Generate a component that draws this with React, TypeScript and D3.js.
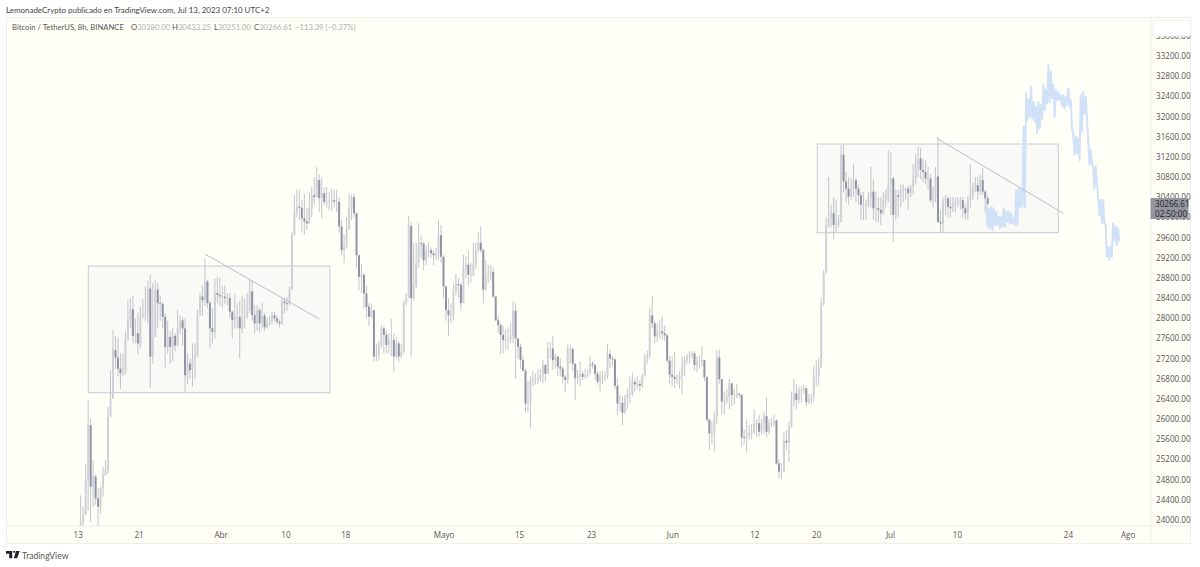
import React from "react";
import * as d3 from "d3";

const closes = [
23970,24100,24790,25880,24660,24860,24430,24260,24630,24890,
24990,26050,26410,27370,27220,27000,26910,26970,27570,27960,
28180,27650,27700,27500,28030,28100,28100,28590,27240,27630,
28570,28300,28280,28030,27430,27630,27430,27650,27460,27800,
27960,27800,26870,27100,26970,27200,27240,28060,28430,28360,
28730,28300,27800,27730,28500,28460,28430,28430,28400,28400,
28130,27960,28030,28030,27800,28000,28030,28160,28530,28060,
27900,28160,27900,28050,27820,27900,27930,28060,28000,27930,
27900,28330,28300,28280,28560,29650,30110,30210,30190,29980,
29920,29880,30180,30440,30400,30740,30380,30480,30310,30310,
30330,30340,30310,30310,29820,29350,29430,29780,30180,30400,
30080,29250,28820,28860,28490,28230,28030,28160,27240,27270,
27470,27800,27670,27470,27570,27570,27240,27500,27240,27340,
28300,28400,29830,28400,28660,29100,29490,29480,29150,29320,
29350,29290,29250,29260,29650,29220,28630,28160,28060,28060,
28550,28680,28660,28300,29020,29060,28860,28860,29060,29350,
29500,29350,28570,28860,28890,28920,28430,27960,27860,27670,
27570,27580,27600,27640,28150,27600,27430,27170,26960,26310,
26320,26780,26780,26790,26810,26870,27070,26900,27400,27400,
27170,27240,27040,27000,26840,26780,27390,27390,27100,26810,
26840,26900,26840,26870,26910,27100,27070,26900,26740,26840,
26850,26850,27290,27200,27180,26660,26310,26320,26130,26410,
26480,26500,26740,26690,26700,26660,26850,27220,27270,28060,
27900,27640,27740,27740,27700,27660,27160,26880,26840,26800,
26800,26870,27040,27170,27240,27270,27300,27070,27140,27170,
27170,26830,25990,25720,25720,26050,27220,26790,26350,26350,
26440,26710,26480,26480,26500,26480,25640,25620,25680,25730,
25730,25910,25920,25750,25920,26060,25750,25920,25920,25970,
25120,24960,24960,25570,25530,25850,26330,26510,26380,26580,
26580,26610,26340,26400,26440,26830,26840,27040,28300,28900,
29850,29980,30080,29850,29850,29915,31240,30710,30570,30410,
30540,30740,30570,30440,30250,30250,30250,30400,30510,30180,
30180,30150,30080,30340,30440,30640,30770,30050,30440,30410,
30540,30570,30570,30480,30610,30770,31070,31170,30940,30900,
30770,30770,30340,30380,30810,29910,29880,30310,30380,30210,
30180,30280,30310,30310,30340,30180,30080,30340,30410,30610,
30640,30510,30740,30510,30380,30266.61];

const highs = [
24490,24260,25120,26380,26010,25190,24900,24630,24660,25050,
25190,26240,26970,27770,27650,27620,27300,27300,27740,28360,
28400,28450,28000,28100,28220,28380,28640,28750,28860,28700,
28750,28700,28450,28330,28100,27950,27750,27800,27700,28170,
28050,28020,28000,27300,27200,27500,27500,28170,28500,28640,
29190,28760,28350,28200,28780,28820,28800,28650,28650,28500,
28500,28150,28470,28300,28350,28450,28400,28500,28760,28750,
28260,28250,28200,28300,28100,28000,28050,28130,28120,28050,
27980,28400,28400,28420,28620,29720,30440,30550,30550,30350,
30470,30200,30500,30600,30800,31000,30850,30800,30600,30600,
30500,30580,30550,30550,30400,29950,29650,30000,30470,30450,
30480,30100,29200,29080,28900,28650,28300,28290,28100,27500,
27550,27870,27850,27750,27700,27990,27700,27620,27550,27500,
28350,28500,30030,29900,29480,29500,29890,29650,29510,29450,
29500,29400,29350,29400,29950,29850,29250,28650,28400,28300,
28700,28880,28800,28700,29260,29230,29350,29100,29500,29500,
29700,29820,29380,29150,29060,29050,29000,28450,28050,27900,
27850,27780,27820,27900,28340,28300,27600,27500,27250,27000,
26750,26850,26950,26900,27000,27000,27180,27100,27530,27530,
27650,27300,27250,27200,27050,26880,27480,27480,27430,27100,
26980,27150,26950,27000,27000,27250,27150,27100,26950,26950,
26960,26950,27480,27380,27250,27220,26820,26480,26450,26480,
26600,26850,26920,26800,26850,26780,26900,27300,27360,28210,
28450,27950,27900,27980,28030,27850,27700,27250,27250,27340,
26900,26950,27250,27250,27300,27340,27350,27350,27250,27270,
27450,27180,26850,26000,25950,26150,27360,27380,26800,26550,
26600,26800,26700,26600,26700,26520,26500,25800,25980,25880,
25900,26190,26000,26080,26000,26150,26430,26000,26020,26080,
26000,25200,25130,25750,25780,25950,26550,26800,26700,26650,
26650,26680,26620,26500,26500,27050,27170,27200,28400,28960,
30000,30800,30250,30400,30350,30050,31430,31430,30900,30800,
30780,31050,30780,30650,30500,30500,30350,30500,31000,30750,
30500,30400,30400,30500,30550,31330,31300,30800,30550,30550,
30650,30650,30600,30630,30650,31050,31250,31400,31370,31150,
31130,31000,30850,30600,31000,31600,30150,30400,30450,30430,
30400,30400,30400,30400,30400,30400,30250,30420,31050,30700,
30800,30800,30850,30980,30550,30433.25];

const lows = [
23860,23860,24230,24200,23970,24260,24300,23860,24130,24460,
24880,24920,26050,26400,27000,26840,26600,26850,26880,27550,
27800,27500,27500,27290,27400,28000,27950,27900,26620,27100,
27750,27800,27950,27800,27000,27300,27100,27150,27350,27450,
27700,27450,26520,26700,26800,26650,26800,27240,28050,28050,
28250,28200,27400,27500,27600,28300,28250,28200,28280,28250,
28000,27600,27800,27800,27200,27700,27800,28000,28100,27950,
27700,27750,27720,27800,27750,27800,27850,27880,27930,27880,
27820,27870,28100,28150,28260,28560,29640,30000,29950,29700,
29650,29750,29870,30000,30250,30400,30100,29980,30250,30200,
30150,30130,30200,30100,29700,29250,29100,29380,29750,29950,
30000,29000,28550,28500,28200,28000,27850,28000,27140,27150,
27160,27400,27300,27300,27300,27250,26950,27200,27140,27200,
27300,28250,28400,27240,28350,28600,29000,29200,28950,29050,
29200,29200,29050,29150,29150,29100,28400,27950,27650,27900,
27950,28450,28400,28150,28300,28800,28650,28700,28830,28980,
29300,29300,28300,28550,28700,28750,28400,27950,27700,27280,
27300,27380,27360,27500,27500,26800,27200,27000,26950,26130,
26130,25820,26650,26680,26700,26750,26720,26750,26900,27200,
26980,27000,26850,26850,26700,26530,26700,27100,26950,26380,
26700,26650,26780,26800,26820,26900,27000,26780,26680,26550,
26700,26750,26800,27000,27050,26600,26080,26150,25880,26100,
26200,26320,26450,26550,26600,26550,26620,26850,27100,27200,
27800,27500,27530,27600,27570,27550,27120,26700,26650,26620,
26700,26600,26500,26850,27100,27100,27200,26960,26930,27000,
27050,26750,25950,25400,25500,25360,25900,26700,26100,26100,
26300,26200,26250,26300,26420,26420,25450,25500,25350,25600,
25600,25700,25650,25650,25700,25700,25650,25700,25850,25850,
25100,24830,24810,24950,25380,25150,25830,26250,26200,26300,
26330,26500,26250,26300,26300,26350,26650,26660,27000,28250,
28900,29800,29800,29560,29700,29800,29900,30500,30300,30250,
30350,30400,30300,30250,29950,29950,29950,30200,30200,29950,
29900,29900,29850,30050,30200,30300,30050,29500,29950,30000,
30200,30300,30350,30150,30400,30450,30650,30800,30750,30700,
30650,30550,30300,30200,30300,29900,29700,29700,30050,30000,
30000,30100,30100,30200,30150,30000,29950,29950,30200,30350,
30500,30350,30450,30450,30100,30251];

const firstOpen = 23870;

const ghostHigh = [
30280,30180,30210,30180,30110,30010,30010,30180,30110,30110,
30080,29980,30540,30575,30540,31800,32460,32330,32590,32290,
32195,32290,32230,32625,32525,33020,32890,32625,32525,32490,
32425,32425,32390,32560,32325,31630,31600,31565,32425,32490,
32390,31535,31335,31005,31005,30410,30345,30345,29880,29420,
29420,29880,29815,29780];
const ghostLow = [
29815,29780,29750,29850,29850,29780,29815,29815,29915,29880,
29880,29850,29850,30210,30210,30200,31930,31995,31960,31900,
31665,31765,31960,32130,32260,32290,32360,31995,32325,32325,
32195,32160,32230,32195,31765,31235,31270,31135,31700,32060,
31965,31040,31070,30575,30675,30045,29880,29880,29220,29155,
29220,29550,29450,29520];
const ghostStart = 364.7;

const priceTicks = [24000,24400,24800,25200,25600,26000,26400,26800,27200,27600,28000,28400,28800,29200,29600,30000,30400,30800,31200,31600,32000,32400,32800,33200,33600];
const timeLabels = ["13","21","Abr","10","18","Mayo","15","23","Jun","12","20","Jul","10","24","Ago"];
const timeBars = [-1,23.5,56.5,82.6,106.7,146.2,176.6,205.6,238.3,271.3,296.2,325.9,352.8,397.5,421.5];

const boxes = [
  { i0: 3.06, i1: 100.3, p0: 29036, p1: 26523 },
  { i0: 296.4, i1: 393.4, p0: 31455, p1: 29696 },
];
const trends = [
  { i0: 50, i1: 96, p0: 29273, p1: 27985 },
  { i0: 344.5, i1: 395.4, p0: 31568, p1: 30081 },
];

const FONT = "'Open Sans', 'Noto Sans', sans-serif";
const HEAD = "Lato, 'Open Sans', sans-serif";

export default function App() {
  const x = d3.scaleLinear().domain([0, 365]).range([80.7, 987.7]);
  const y = d3.scaleLinear().domain([24000, 33200]).range([520, 56]);
  const W = 1200, H = 567;
  const candles = closes.map((c, i) => {
    const o = i === 0 ? firstOpen : i === 365 ? 30380 : closes[i - 1];
    return { i, o, c, h: Math.max(highs[i], o, c), l: Math.min(lows[i], o, c) };
  });
  const upBody = "#d0d1d7", downBody = "#9093a4", wick = "#bbbdc5";
  const ghostPts: [number, number][] = [];
  ghostHigh.forEach((h, k) => {
    ghostPts.push([x(ghostStart + k - 0.25), y(h)]);
    ghostPts.push([x(ghostStart + k + 0.25), y(ghostLow[k])]);
  });
  const ghostLine = d3.line()(ghostPts) as string;
  return (
    <svg width={W} height={H} viewBox={`0 0 ${W} ${H}`} style={{ position: "absolute", left: 0, top: 0, background: "#fff" }}>
      <defs>
        <clipPath id="plot"><rect x={6.5} y={17.5} width={1144} height={508} /></clipPath>
      </defs>
      <text x={6} y={12.5} fontFamily={HEAD} fontSize={7.95} fill="#444">LemonadeCrypto publicado en TradingView.com, Jul 13, 2023 07:10 UTC+2</text>
      <rect x={6.5} y={17.5} width={1184} height={526} fill="#fffff8" stroke="#eeeeea" />
      <line x1={6.5} x2={1190.5} y1={526} y2={526} stroke="#ececea" />
      <line x1={1151} x2={1151} y1={17.5} y2={543} stroke="#ececea" />
      <g clipPath="url(#plot)">
        {boxes.map((b, k) => (
          <rect key={k} x={x(b.i0)} y={y(b.p0)} width={x(b.i1) - x(b.i0)} height={y(b.p1) - y(b.p0)} fill="#f9f9f5" stroke="#c9cbd3" strokeWidth={1} />
        ))}
        <path d={ghostLine} fill="none" stroke="#d0e1f8" strokeWidth={2} strokeLinejoin="round" />
        {candles.map((d) => (
          <line key={d.i} x1={x(d.i)} x2={x(d.i)} y1={y(d.h)} y2={y(d.l)} stroke={wick} strokeWidth={0.9} />
        ))}
        {candles.map((d) => {
          const t = y(Math.max(d.o, d.c));
          const b = y(Math.min(d.o, d.c));
          return <rect key={d.i} x={x(d.i) - 1} width={2} y={t} height={Math.max(b - t, 1)} fill={d.c >= d.o ? upBody : downBody} />;
        })}
        {trends.map((t, k) => (
          <line key={k} x1={x(t.i0)} x2={x(t.i1)} y1={y(t.p0)} y2={y(t.p1)} stroke="#bcbdc6" strokeWidth={1} />
        ))}
      </g>
      {priceTicks.map((p) => (
        <text key={p} x={1156} y={y(p) + 3} fontFamily={FONT} fontSize={8.1} fill="#555">{p.toFixed(2)}</text>
      ))}
      <rect x={1153} y={20} width={38} height={16} rx={2.5} fill="#fff" stroke="#f0f0ee" />
      <rect x={1150.5} y={198} width={38} height={21} fill="#94969f" />
      <text x={1155} y={207} fontFamily={FONT} fontSize={8.1} fill="#222">30266.61</text>
      <text x={1155} y={216.5} fontFamily={FONT} fontSize={8.1} fill="#222">02:50:00</text>
      {timeLabels.map((l, k) => (
        <text key={k} x={x(timeBars[k])} y={538} textAnchor="middle" fontFamily={FONT} fontSize={8.1} fill="#555">{l}</text>
      ))}
      <text x={12} y={30} fontFamily={HEAD} fontSize={7.7} fill="#555">Bitcoin / TetherUS, 8h, BINANCE</text>
      {[["O", "30380.00", 131], ["H", "30433.25", 172], ["L", "30251.00", 214], ["C", "30266.61", 254]].map(([a, b, px]) => (
        <text key={a as string} x={px as number} y={30} fontFamily={HEAD} fontSize={7.7} fill="#555">
          {a}<tspan fill="#b0b0ae">{b}</tspan>
        </text>
      ))}
      <text x={295} y={30} fontFamily={HEAD} fontSize={7.7} fill="#b0b0ae">−113.39 (−0.37%)</text>
      <path d="M6 551h6.2v7.2h-3v-4.4H6zM13.3 551h1.8v1.8h-1.8zM16 551h3.7l-2.6 7.2h-3.2z" fill="#1e222d" />
      <text x={22} y={558.5} fontFamily={HEAD} fontSize={8.6} fill="#555">TradingView</text>
    </svg>
  );
}
